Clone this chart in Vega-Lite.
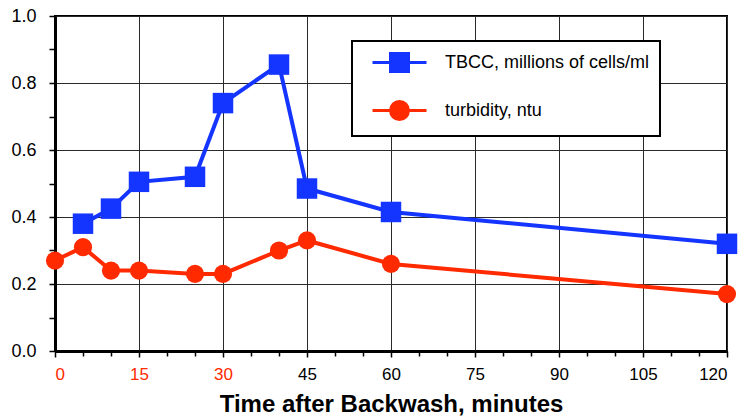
{
  "$schema": "https://vega.github.io/schema/vega-lite/v6.json",
  "autosize": "none",
  "width": 672,
  "height": 335,
  "padding": {"left": 55, "top": 16, "right": 16, "bottom": 68},
  "background": "white",
  "config": {
    "font": "Liberation Sans",
    "view": {"stroke": "black", "strokeWidth": 2},
    "axis": {"labelFont": "Liberation Sans", "titleFont": "Liberation Sans"}
  },
  "data": {
    "values": [
      {"t": 5, "series": "TBCC, millions of cells/ml", "v": 0.38},
      {"t": 10, "series": "TBCC, millions of cells/ml", "v": 0.425},
      {"t": 15, "series": "TBCC, millions of cells/ml", "v": 0.505},
      {"t": 25, "series": "TBCC, millions of cells/ml", "v": 0.52},
      {"t": 30, "series": "TBCC, millions of cells/ml", "v": 0.74},
      {"t": 40, "series": "TBCC, millions of cells/ml", "v": 0.855},
      {"t": 45, "series": "TBCC, millions of cells/ml", "v": 0.485},
      {"t": 60, "series": "TBCC, millions of cells/ml", "v": 0.415},
      {"t": 120, "series": "TBCC, millions of cells/ml", "v": 0.32},
      {"t": 0, "series": "turbidity, ntu", "v": 0.27},
      {"t": 5, "series": "turbidity, ntu", "v": 0.31},
      {"t": 10, "series": "turbidity, ntu", "v": 0.24},
      {"t": 15, "series": "turbidity, ntu", "v": 0.24},
      {"t": 25, "series": "turbidity, ntu", "v": 0.23},
      {"t": 30, "series": "turbidity, ntu", "v": 0.23},
      {"t": 40, "series": "turbidity, ntu", "v": 0.30},
      {"t": 45, "series": "turbidity, ntu", "v": 0.33},
      {"t": 60, "series": "turbidity, ntu", "v": 0.26},
      {"t": 120, "series": "turbidity, ntu", "v": 0.17}
    ]
  },
  "resolve": {"axis": {"x": "independent", "y": "independent"}},
  "layer": [
    {
      "mark": {"type": "point", "opacity": 0},
      "encoding": {
        "x": {
          "field": "t", "type": "quantitative",
          "scale": {"domain": [0, 120], "nice": false, "zero": false},
          "axis": {
            "orient": "bottom",
            "values": [5, 10, 20, 25, 35, 40, 50, 55, 65, 70, 80, 85, 95, 100, 110, 115],
            "labels": false, "grid": false, "domain": false, "title": null,
            "ticks": true, "tickSize": 5, "tickColor": "black", "tickWidth": 1.5
          }
        },
        "y": {
          "field": "v", "type": "quantitative",
          "scale": {"domain": [0, 1], "nice": false},
          "axis": {
            "orient": "left",
            "values": [0.1, 0.3, 0.5, 0.7, 0.9],
            "labels": false, "grid": false, "domain": false, "title": null,
            "ticks": true, "tickSize": 6, "tickColor": "black", "tickWidth": 1.5
          }
        }
      }
    },
    {
      "mark": {"type": "line", "strokeWidth": 4},
      "encoding": {
        "x": {
          "field": "t", "type": "quantitative",
          "axis": {
            "orient": "bottom",
            "values": [0, 15, 30, 45, 60, 75, 90, 105, 120],
            "title": "Time after Backwash, minutes",
            "titleFontSize": 24, "titleFontWeight": "bold", "titleColor": "black",
            "titlePadding": 10,
            "labelFontSize": 17, "labelPadding": 9,
            "labelColor": {"condition": {"test": "datum.value <= 30", "value": "#ff2a00"}, "value": "black"},
            "grid": true, "gridColor": "#2a2a2a", "gridWidth": 1, "gridOpacity": 1,
            "domain": true, "domainColor": "black", "domainWidth": 3,
            "ticks": true, "tickSize": 6, "tickColor": "black", "tickWidth": 1.5
          }
        },
        "y": {
          "field": "v", "type": "quantitative",
          "axis": {
            "orient": "left",
            "values": [0, 0.2, 0.4, 0.6, 0.8, 1.0],
            "format": ".1f",
            "title": null,
            "labelFontSize": 18, "labelPadding": 13, "labelColor": "black",
            "grid": true, "gridColor": "#2a2a2a", "gridWidth": 1, "gridOpacity": 1,
            "domain": true, "domainColor": "black", "domainWidth": 3,
            "ticks": true, "tickSize": 6, "tickColor": "black", "tickWidth": 1.5
          }
        },
        "color": {
          "field": "series", "type": "nominal",
          "scale": {
            "domain": ["TBCC, millions of cells/ml", "turbidity, ntu"],
            "range": ["#1434ff", "#ff2a00"]
          },
          "legend": {
            "orient": "none",
            "legendX": 297,
            "legendY": 25,
            "title": null,
            "fillColor": "white",
            "strokeColor": "black",
            "padding": 10,
            "rowPadding": 17,
            "labelFontSize": 18,
            "labelColor": "black",
            "labelOffset": 60,
            "labelLimit": 400,
            "labelExpr": "datum.label + '\u00a0\u00a0\u00a0\u00a0\u00a0'",
            "symbolSize": 400,
            "symbolStrokeWidth": 3,
            "encode": {
              "legend": {"update": {"strokeWidth": {"value": 2}}},
              "symbols": {
                "update": {
                  "shape": {"signal": "datum.value === 'turbidity, ntu' ? 'M-0.1,0H5.3M1.7,0A0.9,0.9,0,1,1,3.5,0A0.9,0.9,0,1,1,1.7,0Z' : 'M-0.1,0H5.3M1.7,-0.9H3.5V0.9H1.7Z'"},
                  "fill": {"signal": "datum.value === 'turbidity, ntu' ? '#ff2a00' : '#1434ff'"},
                  "stroke": {"signal": "datum.value === 'turbidity, ntu' ? '#ff2a00' : '#1434ff'"},
                  "strokeWidth": {"value": 3},
                  "opacity": {"value": 1}
                }
              }
            }
          }
        }
      }
    },
    {
      "transform": [{"filter": "datum.series === 'TBCC, millions of cells/ml'"}],
      "mark": {"type": "point", "shape": "square", "filled": true, "opacity": 1, "size": 420},
      "encoding": {
        "x": {"field": "t", "type": "quantitative", "axis": null},
        "y": {"field": "v", "type": "quantitative", "axis": null},
        "color": {"field": "series", "type": "nominal"}
      }
    },
    {
      "transform": [{"filter": "datum.series === 'turbidity, ntu'"}],
      "mark": {"type": "point", "shape": "circle", "filled": true, "opacity": 1, "size": 330},
      "encoding": {
        "x": {"field": "t", "type": "quantitative", "axis": null},
        "y": {"field": "v", "type": "quantitative", "axis": null},
        "color": {"field": "series", "type": "nominal"}
      }
    }
  ]
}
